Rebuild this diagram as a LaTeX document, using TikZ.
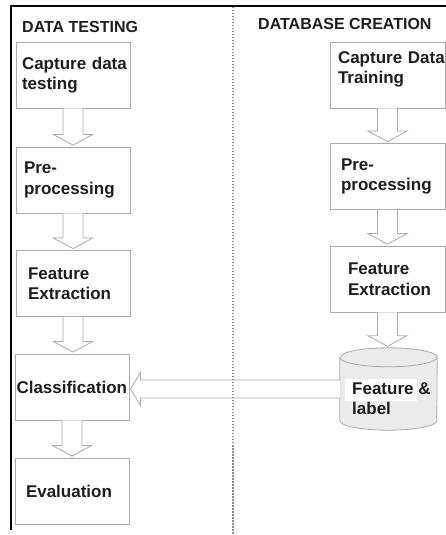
\documentclass[tikz,border=0pt]{standalone}
\usepackage{fontspec}
\setmainfont{Liberation Sans}
\usepackage{tikz}
\usetikzlibrary{calc}
\definecolor{boxgray}{HTML}{ABABAB}
\definecolor{inkgray}{HTML}{1E1E1E}
\definecolor{dbfill}{HTML}{EBEBEB}
\definecolor{dotgray}{HTML}{8C8C8C}
\hyphenpenalty=10000
\exhyphenpenalty=10000
\newcommand{\arrowdown}[2]{%
\draw [blockarrow] let \p1=(#1.south), \p2=(#2.north) in
  (\x1-10pt,\y1) -- (\x1-10pt,\y2+12pt) -- (\x1-19.5pt,\y2+12pt) -- (\x1,\y2+1.5pt)
  -- (\x1+19.5pt,\y2+12pt) -- (\x1+10pt,\y2+12pt) -- (\x1+10pt,\y1);}
\newcommand{\arrowleft}[2]{%
\draw [blockarrow] let \p1=(#1.west), \p2=(#2.east) in
  (\x1,\y1+9pt) -- (\x2+11pt,\y1+9pt) -- (\x2+11pt,\y1+16.5pt) -- (\x2+1pt,\y1)
  -- (\x2+11pt,\y1-16.5pt) -- (\x2+11pt,\y1-9pt) -- (\x1,\y1-9pt);}
\begin{document}
\begin{tikzpicture}[x=1pt, y=1pt,
  box/.style={draw=boxgray, line width=0.8pt, minimum height=66pt, align=left, text=inkgray, font=\bfseries\fontsize{17}{20.5}\selectfont},
  title/.style={anchor=base west, inner sep=0pt, text=inkgray, font=\bfseries\fontsize{16}{19}\selectfont},
  dbtext/.style={anchor=base west, inner sep=0pt, text=inkgray, font=\bfseries\fontsize{17}{20.5}\selectfont},
  blockarrow/.style={draw=boxgray, line width=0.8pt, fill=white, line join=miter}]
\useasboundingbox (0,0) rectangle (446,535);
%
\draw [black, line width=2pt] (11,5) -- (11,529) -- (446,529);
%
\node [title] (ttest) at (22,502) {DATA TESTING};
\node [title] (ttrain) at (258,505) {DATABASE CREATION};
%
\node [box, text width=102pt, inner xsep=6pt] (captTest) at (73,460) {Capture~data\\testing};
\node [box, text width=98pt, inner xsep=8pt] (preTest) at (73,355) {Pre-\\processing};
\node [box, text width=90pt, inner xsep=12pt] (featTest) at (73,251.5) {Feature\\Extraction};
\node [box, text width=111pt, inner xsep=1.5pt] (classify) at (72,148) {Classification};
\node [box, text width=92pt, inner xsep=11pt] (evaluate) at (72,44) {Evaluation};
%
\node [box, text width=99pt, inner xsep=8pt] (captTrain) at (387.5,460) {Capture~Data\\Training\par\vspace{11pt}};
\node [box, text width=93pt, inner xsep=11pt] (preTrain) at (387.5,358.5) {Pre-\\processing};
\node [box, text width=79pt, inner xsep=18pt] (featTrain) at (387.5,256) {Feature\\Extraction};
%
\node [minimum width=97pt, minimum height=82pt, inner sep=0pt] (db) at (388.5,146) {};
\filldraw [draw=boxgray, fill=dbfill, line width=0.8pt] let \p1=(db.south west), \p2=(db.north east) in
  (\x1,\y2-9.5pt) -- (\x1,\y1+9.5pt) arc[start angle=180, end angle=360, x radius=48.5pt, y radius=9.5pt]
  -- (\x2,\y2-9.5pt) arc[start angle=0, end angle=180, x radius=48.5pt, y radius=9.5pt] -- cycle;
\draw [boxgray, line width=0.8pt] let \p1=(db.west), \p2=(db.north) in
  (\x1,\y2-9.5pt) arc[start angle=180, end angle=360, x radius=48.5pt, y radius=9.5pt];
\fill [white] (345,134) rectangle (417,156);
\node [dbtext] (dbfeat) at (352,140) {Feature \&};
\node [dbtext] (dblabel) at (352,120) {label};
%
\arrowdown{captTest}{preTest}
\arrowdown{preTest}{featTest}
\arrowdown{featTest}{classify}
\arrowdown{classify}{evaluate}
\arrowdown{captTrain}{preTrain}
\arrowdown{preTrain}{featTrain}
\arrowdown{featTrain}{db}
\arrowleft{db}{classify}
%
\draw [dotgray, line width=1.4pt, dash pattern=on 1.5pt off 1.5pt] (233,528) -- (233,0);
%%%%%%%%%%%%%%%%%%%%%%%%%%%%%%%
\end{tikzpicture}
\end{document}
